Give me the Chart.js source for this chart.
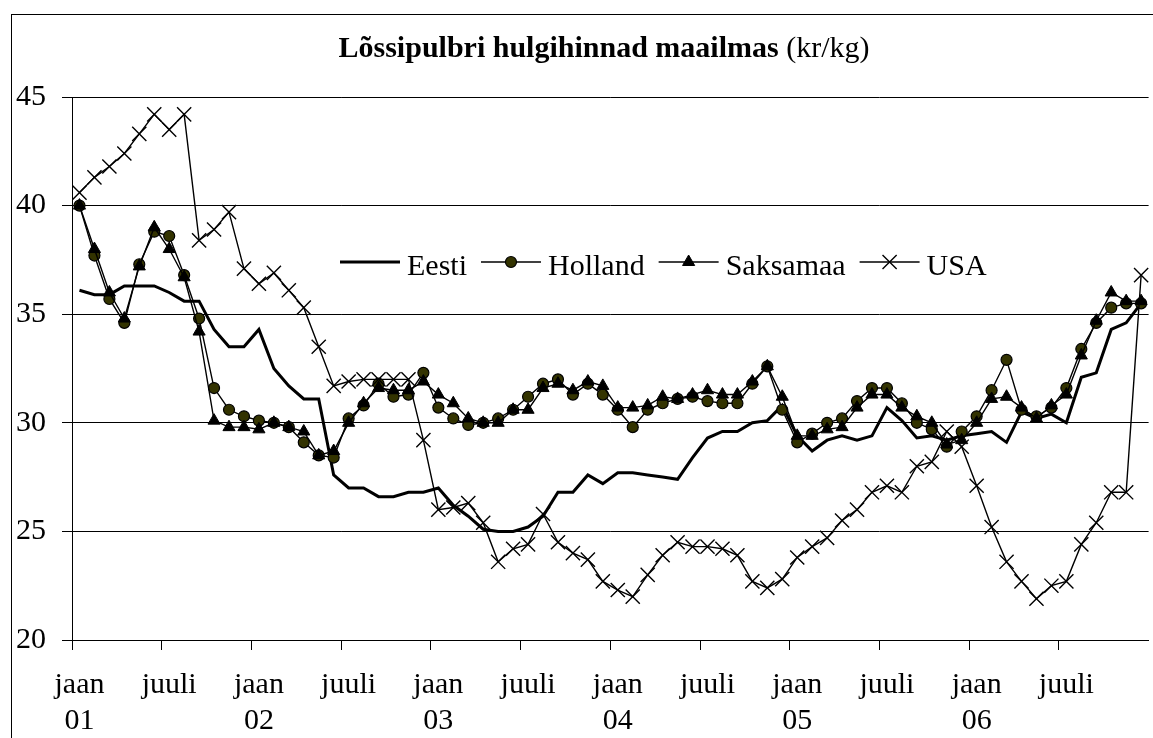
<!DOCTYPE html>
<html lang="et">
<head>
  <meta charset="UTF-8" />
  <title>Lõssipulbri hulgihinnad maailmas</title>
  <script src="https://cdn.jsdelivr.net/npm/chart.js"></script>
  <style>
    html, body { margin: 0; padding: 0; background: #fff; overflow: hidden; }
    #chart { position: absolute; left: 0; top: 0; }
  </style>
</head>
<body>
<canvas id="chart" width="1160" height="738"></canvas>

<script>
  // months Jan 2001 .. Dec 2006
  const months = ['jaan', 'veebr', 'märts', 'apr', 'mai', 'juuni', 'juuli', 'aug', 'sept', 'okt', 'nov', 'dets'];
  const years = ['01', '02', '03', '04', '05', '06'];
  const categories = years.flatMap(y => months.map(m => m + ' ' + y));
  const shownMonths = ['jaan', 'juuli'];

  const eesti = [
    36.1, 35.9, 35.9, 36.3, 36.3, 36.3, 36.0, 35.6, 35.6, 34.3, 33.5, 33.5,
    34.3, 32.5, 31.7, 31.1, 31.1, 27.6, 27.0, 27.0, 26.6, 26.6, 26.8, 26.8,
    27.0, 26.2, 25.7, 25.1, 25.0, 25.0, 25.2, 25.7, 26.8, 26.8, 27.6, 27.2,
    27.7, 27.7, 27.6, 27.5, 27.4, 28.4, 29.3, 29.6, 29.6, 30.0, 30.1, 30.8,
    29.4, 28.7, 29.2, 29.4, 29.2, 29.4, 30.7, 30.1, 29.3, 29.4, 29.2, 29.4,
    29.5, 29.6, 29.1, 30.5, 30.2, 30.4, 30.0, 32.1, 32.3, 34.3, 34.6, 35.5
  ];
  const holland = [
    40.0, 37.7, 35.7, 34.6, 37.3, 38.8, 38.6, 36.8, 34.8, 31.6, 30.6, 30.3,
    30.1, 30.0, 29.8, 29.1, 28.5, 28.4, 30.2, 30.8, 31.8, 31.2, 31.3, 32.3,
    30.7, 30.2, 29.9, 30.0, 30.2, 30.6, 31.2, 31.8, 32.0, 31.3, 31.8, 31.3,
    30.6, 29.8, 30.6, 30.9, 31.1, 31.2, 31.0, 30.9, 30.9, 31.8, 32.6, 30.6,
    29.1, 29.5, 30.0, 30.2, 31.0, 31.6, 31.6, 30.9, 30.0, 29.7, 28.9, 29.6,
    30.3, 31.5, 32.9, 30.6, 30.3, 30.7, 31.6, 33.4, 34.6, 35.3, 35.5, 35.5
  ];
  const saksamaa = [
    40.0, 38.0, 36.0, 34.8, 37.2, 39.0, 38.0, 36.7, 34.2, 30.1, 29.8, 29.8,
    29.7, 30.0, 29.8, 29.6, 28.5, 28.7, 30.0, 30.9, 31.6, 31.5, 31.5, 31.9,
    31.3, 30.9, 30.2, 30.0, 30.0, 30.6, 30.6, 31.6, 31.8, 31.5, 31.9, 31.7,
    30.7, 30.7, 30.8, 31.2, 31.1, 31.3, 31.5, 31.3, 31.3, 31.9, 32.6, 31.2,
    29.4, 29.4, 29.7, 29.8, 30.7, 31.3, 31.3, 30.7, 30.3, 30.0, 29.0, 29.2,
    30.0, 31.1, 31.2, 30.7, 30.2, 30.8, 31.3, 33.1, 34.7, 36.0, 35.6, 35.6
  ];
  const usa = [
    40.6, 41.3, 41.8, 42.4, 43.3, 44.2, 43.5, 44.2, 38.4, 38.9, 39.7, 37.1,
    36.4, 36.9, 36.1, 35.3, 33.5, 31.7, 31.9, 32.0, 32.0, 32.0, 32.0, 29.2,
    26.0, 26.1, 26.3, 25.4, 23.6, 24.2, 24.4, 25.8, 24.5, 24.0, 23.7, 22.7,
    22.3, 22.0, 23.0, 23.9, 24.5, 24.3, 24.3, 24.2, 23.9, 22.7, 22.4, 22.8,
    23.8, 24.3, 24.7, 25.5, 26.0, 26.8, 27.1, 26.8, 28.0, 28.2, 29.6, 28.9,
    27.1, 25.2, 23.6, 22.7, 21.9, 22.5, 22.7, 24.4, 25.4, 26.8, 26.8, 36.8
  ];

  const yMin = 20, yMax = 45, yStep = 5;
  const titleMain = 'Lõssipulbri hulgihinnad maailmas';
  const titleUnit = '(kr/kg)';

  const serif = "'Liberation Serif', 'Times New Roman', serif";
  Chart.defaults.font.family = serif;
  Chart.defaults.color = '#000';

  // frame, title and the in-plot legend
  const overlay = {
    id: 'overlay',
    beforeDraw(chart) {
      const ctx = chart.ctx;
      ctx.save();
      ctx.strokeStyle = '#000';
      ctx.lineWidth = 1;
      ctx.strokeRect(11.5, 14.5, chart.width + 100, chart.height + 100);
      ctx.restore();
    },
    afterDraw(chart) {
      const ctx = chart.ctx;
      ctx.save();
      ctx.fillStyle = '#000';
      ctx.textBaseline = 'alphabetic';

      ctx.font = 'bold 30px ' + serif;
      const w1 = ctx.measureText(titleMain + ' ').width;
      ctx.font = '30px ' + serif;
      const w2 = ctx.measureText(titleUnit).width;
      let tx = 604 - (w1 + w2) / 2;
      ctx.font = 'bold 30px ' + serif;
      ctx.fillText(titleMain + ' ', tx, 57);
      ctx.font = '30px ' + serif;
      ctx.fillText(titleUnit, tx + w1, 57);

      let lx = 340;
      const ly = 262;
      chart.data.datasets.forEach(ds => {
        ctx.strokeStyle = ds.borderColor;
        ctx.lineWidth = ds.borderWidth;
        ctx.beginPath();
        ctx.moveTo(lx, ly);
        ctx.lineTo(lx + 60, ly);
        ctx.stroke();
        if (ds.pointRadius > 0) {
          ctx.fillStyle = ds.pointBackgroundColor;
          ctx.strokeStyle = ds.pointBorderColor;
          ctx.lineWidth = ds.pointBorderWidth;
          Chart.helpers.drawPoint(ctx, {
            pointStyle: ds.pointStyle,
            radius: ds.pointRadius,
            borderWidth: ds.pointBorderWidth,
            rotation: 0
          }, lx + 30, ly);
        }
        ctx.fillStyle = '#000';
        ctx.font = '30px ' + serif;
        ctx.fillText(ds.label, lx + 67, 275);
        lx += 67 + ctx.measureText(ds.label).width + 14;
      });
      ctx.restore();
    }
  };

  new Chart(document.getElementById('chart'), {
    type: 'line',
    data: {
      labels: categories,
      datasets: [
        {
          label: 'Eesti', data: eesti, order: 4,
          borderColor: '#000', borderWidth: 3, pointRadius: 0, tension: 0
        },
        {
          label: 'Holland', data: holland, order: 3,
          borderColor: '#000', borderWidth: 1.4, tension: 0,
          pointStyle: 'circle', pointRadius: 5.5,
          pointBackgroundColor: '#333300', pointBorderColor: '#000', pointBorderWidth: 1.2
        },
        {
          label: 'Saksamaa', data: saksamaa, order: 2,
          borderColor: '#000', borderWidth: 1.4, tension: 0,
          pointStyle: 'triangle', pointRadius: 7,
          pointBackgroundColor: '#000', pointBorderColor: '#000', pointBorderWidth: 1
        },
        {
          label: 'USA', data: usa, order: 1,
          borderColor: '#000', borderWidth: 1.4, tension: 0,
          pointStyle: 'crossRot', pointRadius: 10,
          pointBackgroundColor: '#000', pointBorderColor: '#000', pointBorderWidth: 1.4
        }
      ]
    },
    options: {
      responsive: false,
      animation: false,
      layout: { padding: { top: 97, left: 0, right: 3.7, bottom: 0 } },
      plugins: {
        legend: { display: false },
        title: { display: false },
        tooltip: { enabled: false }
      },
      scales: {
        x: {
          type: 'category',
          offset: true,
          grid: {
            offset: true,
            drawOnChartArea: false,
            tickLength: 10,
            lineWidth: 1,
            color: c => (c.index % 6 === 0 ? '#000' : 'rgba(0,0,0,0)')
          },
          border: { color: '#000', width: 1 },
          ticks: {
            autoSkip: false,
            maxRotation: 0,
            minRotation: 0,
            padding: 17,
            font: { size: 30, lineHeight: 1.2 },
            color: '#000',
            callback: (v, i) => {
              const [m, y] = categories[i].split(' ');
              if (m === shownMonths[0]) return [m, y];
              if (m === shownMonths[1]) return m;
              return '';
            }
          },
          afterFit: s => { s.height = 98; s.paddingLeft = 0; s.paddingRight = 0; }
        },
        y: {
          min: yMin,
          max: yMax,
          grid: { color: '#000', lineWidth: 1, tickLength: 10 },
          border: { color: '#000', width: 1 },
          ticks: { stepSize: yStep, padding: 16, font: { size: 30 }, color: '#000' },
          afterFit: s => { s.width = 72; }
        }
      }
    },
    plugins: [overlay]
  });
</script>
</body>
</html>
